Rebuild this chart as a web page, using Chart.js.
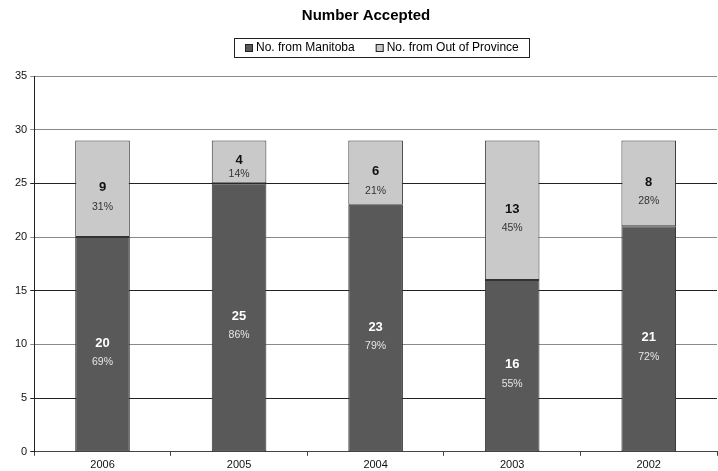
<!DOCTYPE html>
<html>
<head>
<meta charset="utf-8">
<script src="https://cdn.jsdelivr.net/npm/chart.js@4/dist/chart.umd.min.js"></script>
<style>
html,body{margin:0;padding:0;background:#fff;}
#wrap{width:718px;height:471px;position:relative;}
</style>
</head>
<body>
<div id="wrap"><canvas id="c" width="718" height="471"></canvas></div>
<script>
const categories = ["2006", "2005", "2004", "2003", "2002"];
const manitoba = [20, 25, 23, 16, 21];
const outOfProvince = [9, 4, 6, 13, 8];
const manitobaPct = [69, 86, 79, 55, 72];
const outPct = [31, 14, 21, 45, 28];
const yTicks = [0, 5, 10, 15, 20, 25, 30, 35];
const chartTitle = "Number Accepted";

const FONT = "'Liberation Sans', Arial, sans-serif";

const segLabels = {
  id: 'segLabels',
  afterDatasetsDraw(chart) {
    const ctx = chart.ctx;
    const pcts = [manitobaPct, outPct];
    chart.data.datasets.forEach((ds, di) => {
      const meta = chart.getDatasetMeta(di);
      meta.data.forEach((bar, i) => {
        const top = Math.min(bar.y, bar.base);
        const bot = Math.max(bar.y, bar.base);
        const h = bot - top;
        const cy = (top + bot) / 2;
        const off = Math.min(19, h * 0.3);
        ctx.save();
        ctx.textAlign = 'center';
        ctx.textBaseline = 'middle';
        ctx.font = 'bold 13px ' + FONT;
        ctx.fillStyle = di === 0 ? '#ffffff' : '#111111';
        ctx.fillText(String(ds.data[i]), bar.x, cy - 1);
        ctx.font = '10.5px ' + FONT;
        ctx.fillStyle = di === 0 ? '#e6e6e6' : '#333333';
        ctx.fillText(pcts[di][i] + '%', bar.x, cy - 1 + off);
        ctx.restore();
      });
    });
  }
};

const headerPlugin = {
  id: 'header',
  afterDraw(chart) {
    const ctx = chart.ctx;
    ctx.save();
    // title
    ctx.font = 'bold 15px ' + FONT;
    ctx.fillStyle = '#000';
    ctx.textAlign = 'center';
    ctx.textBaseline = 'middle';
    ctx.fillText(chartTitle, 366, 16);
    // legend
    ctx.font = '12px ' + FONT;
    const ds = chart.data.datasets;
    const sq = 8, gapBoxText = 3, gapItems = 21, padL = 11, padR = 10;
    const widths = ds.map(d => ctx.measureText(d.label).width);
    let total = padL + padR;
    widths.forEach((w, i) => { total += sq + gapBoxText + w + (i < widths.length - 1 ? gapItems : 0); });
    const cx = 381;
    const left = Math.round(cx - total / 2);
    const top = 38, hgt = 19;
    ctx.strokeStyle = '#222';
    ctx.lineWidth = 1;
    ctx.strokeRect(left + 0.5, top + 0.5, Math.round(total), hgt);
    let x = left + padL;
    const cyL = top + hgt / 2 + 0.5;
    ctx.textAlign = 'left';
    ds.forEach((d, i) => {
      ctx.fillStyle = d.backgroundColor;
      ctx.fillRect(x, Math.round(cyL - sq / 2), sq, sq);
      ctx.strokeStyle = '#222';
      ctx.strokeRect(x + 0.5, Math.round(cyL - sq / 2) + 0.5, sq - 1, sq - 1);
      x += sq + gapBoxText;
      ctx.fillStyle = '#000';
      ctx.fillText(d.label, x, cyL);
      x += widths[i] + gapItems;
    });
    ctx.restore();
  }
};

new Chart(document.getElementById('c'), {
  type: 'bar',
  data: {
    labels: categories,
    datasets: [
      {
        label: 'No. from Manitoba',
        data: manitoba,
        backgroundColor: '#595959',
        borderColor: '#333333',
        borderWidth: 1,
        borderSkipped: false,
        barPercentage: 0.4,
        categoryPercentage: 1.0
      },
      {
        label: 'No. from Out of Province',
        data: outOfProvince,
        backgroundColor: '#c9c9c9',
        borderColor: '#333333',
        borderWidth: 1,
        borderSkipped: false,
        barPercentage: 0.4,
        categoryPercentage: 1.0
      }
    ]
  },
  options: {
    responsive: false,
    animation: false,
    layout: { padding: { left: 12, right: 1, top: 76, bottom: -4 } },
    plugins: {
      title: { display: false },
      legend: { display: false },
      tooltip: { enabled: false }
    },
    scales: {
      x: {
        stacked: true,
        offset: true,
        grid: { display: true, drawOnChartArea: false, drawTicks: true, tickLength: 4, color: '#444', offset: true },
        border: { color: '#444', width: 1 },
        ticks: { color: '#111', font: { family: FONT, size: 11 }, padding: 3 }
      },
      y: {
        stacked: true,
        min: 0,
        max: 35,
        afterBuildTicks(scale) { scale.ticks = yTicks.map(v => ({ value: v })); },
        grid: {
          color(ctx) {
            const v = ctx.tick ? ctx.tick.value : 0;
            return (v === 10 || v === 20 || v === 30 || v === 35) ? '#8a8a8a' : '#222';
          },
          lineWidth: 1,
          tickLength: 4
        },
        border: { color: '#222', width: 1 },
        ticks: { color: '#111', font: { family: FONT, size: 11 }, padding: 3 }
      }
    }
  },
  plugins: [segLabels, headerPlugin]
});
</script>
</body>
</html>
